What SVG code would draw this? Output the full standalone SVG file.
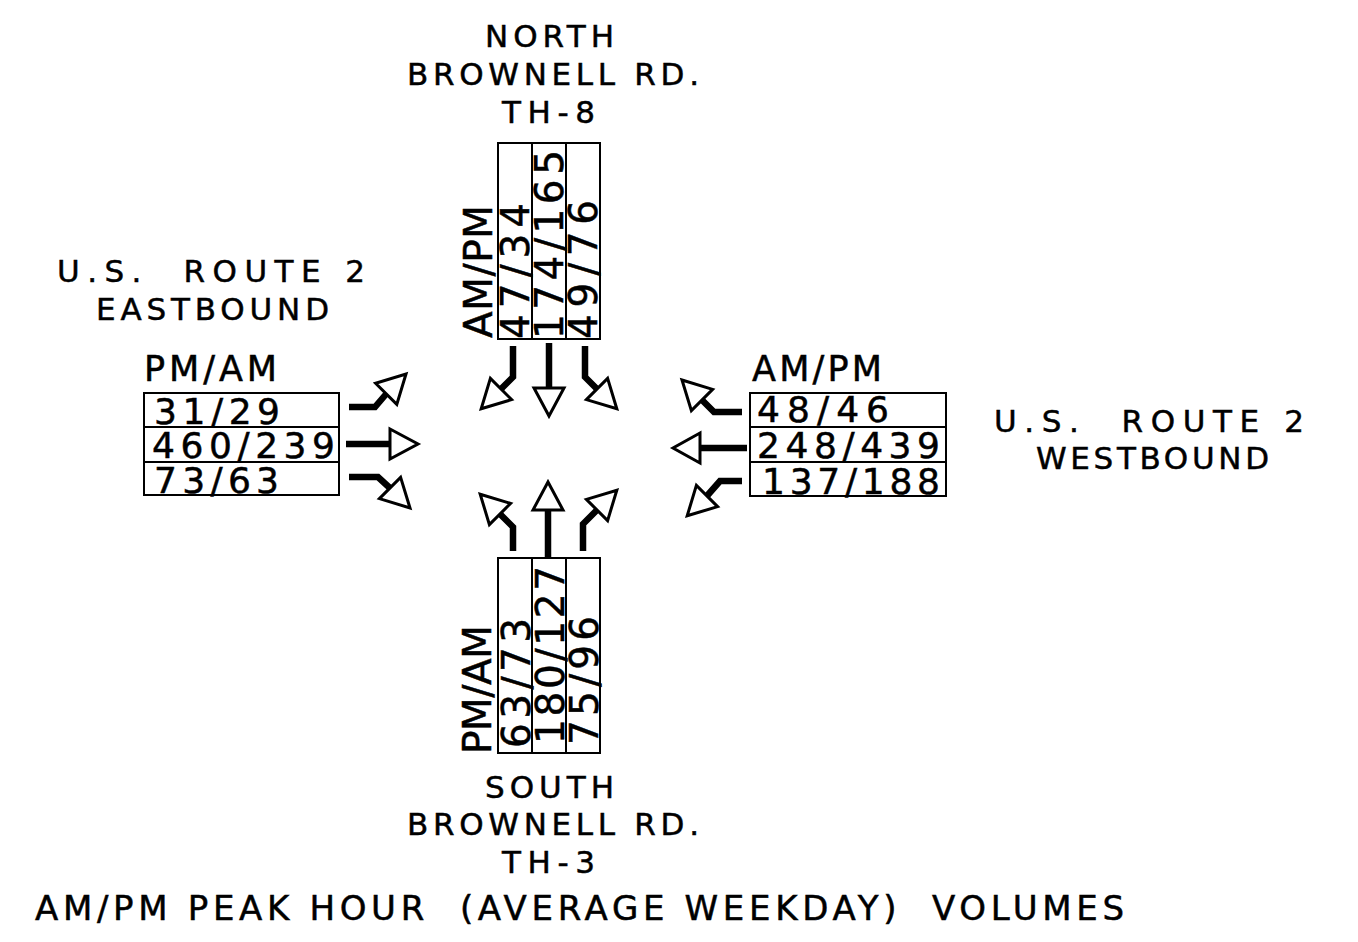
<svg xmlns="http://www.w3.org/2000/svg" width="1358" height="942" viewBox="0 0 1358 942">
<style>
  text { font-family: "DejaVu Sans", "Liberation Sans", sans-serif; fill: #000; stroke: #000; stroke-width: 0.5; white-space: pre; }
  .t { font-size: 31px; }
  .n { font-size: 36px; }
  .l { font-size: 35px; }
  .r { font-size: 39px; }
  .b { font-size: 34px; }
  .box { fill: none; stroke: #000; stroke-width: 2; }
  .stem { fill: none; stroke: #000; stroke-width: 6.5; stroke-linejoin: miter; stroke-linecap: butt; }
  .head { fill: #fff; stroke: #000; stroke-width: 3; stroke-linejoin: miter; }
</style>
<rect width="1358" height="942" fill="#fff"/>

<g id="north-approach">
  <text class="t" x="485" y="47" textLength="129" lengthAdjust="spacing">NORTH</text>
  <text class="t" x="407" y="85" textLength="292" lengthAdjust="spacing">BROWNELL RD.</text>
  <text class="t" x="502" y="123" textLength="93" lengthAdjust="spacing">TH-8</text>
  <rect class="box" x="498" y="143" width="102" height="196"/>
  <line class="box" x1="532" y1="143" x2="532" y2="339"/>
  <line class="box" x1="566" y1="143" x2="566" y2="339"/>
  <text class="r" transform="translate(492,338) rotate(-90)" textLength="133" lengthAdjust="spacing">AM/PM</text>
  <text class="r" transform="translate(529,339) rotate(-90)" textLength="136" lengthAdjust="spacing">47/34</text>
  <text class="r" transform="translate(563,339) rotate(-90)" textLength="189" lengthAdjust="spacing">174/165</text>
  <text class="r" transform="translate(597,339) rotate(-90)" textLength="139" lengthAdjust="spacing">49/76</text>
</g>

<g id="west-approach">
  <text class="t" x="57" y="282" textLength="308" lengthAdjust="spacing">U.S.  ROUTE 2</text>
  <text class="t" x="96" y="320" textLength="233" lengthAdjust="spacing">EASTBOUND</text>
  <text class="l" x="144" y="381" textLength="133" lengthAdjust="spacing">PM/AM</text>
  <rect class="box" x="144" y="393" width="195" height="102"/>
  <line class="box" x1="144" y1="427" x2="339" y2="427"/>
  <line class="box" x1="144" y1="462" x2="339" y2="462"/>
  <text class="n" x="154" y="424" textLength="126" lengthAdjust="spacing">31/29</text>
  <text class="n" x="152" y="458" textLength="183" lengthAdjust="spacing">460/239</text>
  <text class="n" x="154" y="493" textLength="125" lengthAdjust="spacing">73/63</text>
</g>

<g id="east-approach">
  <text class="t" x="994" y="432" textLength="310" lengthAdjust="spacing">U.S.  ROUTE 2</text>
  <text class="t" x="1036" y="469" textLength="233" lengthAdjust="spacing">WESTBOUND</text>
  <text class="l" x="752" y="381" textLength="130" lengthAdjust="spacing">AM/PM</text>
  <rect class="box" x="750" y="393" width="196" height="103"/>
  <line class="box" x1="750" y1="427" x2="946" y2="427"/>
  <line class="box" x1="750" y1="462" x2="946" y2="462"/>
  <text class="n" x="757" y="422" textLength="132" lengthAdjust="spacing">48/46</text>
  <text class="n" x="757" y="458" textLength="183" lengthAdjust="spacing">248/439</text>
  <text class="n" x="762" y="494" textLength="178" lengthAdjust="spacing">137/188</text>
</g>

<g id="south-approach">
  <rect class="box" x="498" y="558" width="102" height="195"/>
  <line class="box" x1="532" y1="558" x2="532" y2="753"/>
  <line class="box" x1="566" y1="558" x2="566" y2="753"/>
  <text class="r" transform="translate(491,754) rotate(-90)" textLength="129" lengthAdjust="spacing">PM/AM</text>
  <text class="r" transform="translate(530,748) rotate(-90)" textLength="130" lengthAdjust="spacing">63/73</text>
  <text class="r" transform="translate(564,744) rotate(-90)" textLength="178" lengthAdjust="spacing">180/127</text>
  <text class="r" transform="translate(598,745) rotate(-90)" textLength="129" lengthAdjust="spacing">75/96</text>
  <text class="t" x="485" y="798" textLength="129" lengthAdjust="spacing">SOUTH</text>
  <text class="t" x="407" y="835" textLength="292" lengthAdjust="spacing">BROWNELL RD.</text>
  <text class="t" x="502" y="873" textLength="93" lengthAdjust="spacing">TH-3</text>
</g>

<g id="caption">
  <text class="b" x="35" y="920" textLength="1089" lengthAdjust="spacing">AM/PM PEAK HOUR  (AVERAGE WEEKDAY)  VOLUMES</text>
</g>

<g id="connectors">
  <line class="stem" x1="346" y1="444" x2="391" y2="444"/>
  <polygon class="head" points="390,429 418,444 390,459"/>
  <polyline class="stem" points="349,407 375,407 387,393"/>
  <polygon class="head" points="406,374 396.8,404.4 375.6,383.2"/>
  <polyline class="stem" points="349,477 378,477 391,489"/>
  <polygon class="head" points="410,508 400.6,477.4 379.4,498.6"/>

  <line class="stem" x1="747" y1="448" x2="699" y2="448"/>
  <polygon class="head" points="700,433 673,448 700,463"/>
  <polyline class="stem" points="742,412 714,412 701,399"/>
  <polygon class="head" points="682,380 712.6,389.4 691.4,410.6"/>
  <polyline class="stem" points="742,481 720,481 706,497"/>
  <polygon class="head" points="687.2,515.8 717.6,506.6 696.4,485.4"/>

  <line class="stem" x1="549" y1="343" x2="549" y2="389"/>
  <polygon class="head" points="534,388 564,388 549,416"/>
  <polyline class="stem" points="513,346 513,377 500,390"/>
  <polygon class="head" points="481.2,408.8 511.6,399.6 490.4,378.4"/>
  <polyline class="stem" points="585,346 585,377 598,390"/>
  <polygon class="head" points="616.8,408.8 607.6,378.4 586.4,399.6"/>

  <line class="stem" x1="548" y1="557" x2="548" y2="509"/>
  <polygon class="head" points="533,510 563,510 548,482"/>
  <polyline class="stem" points="513,551 513,527 499,513"/>
  <polygon class="head" points="480.2,494.2 510.6,503.4 489.4,524.6"/>
  <polyline class="stem" points="583,551 583,524 598,509"/>
  <polygon class="head" points="616.8,490.2 607.6,520.6 586.4,499.4"/>
</g>
</svg>
